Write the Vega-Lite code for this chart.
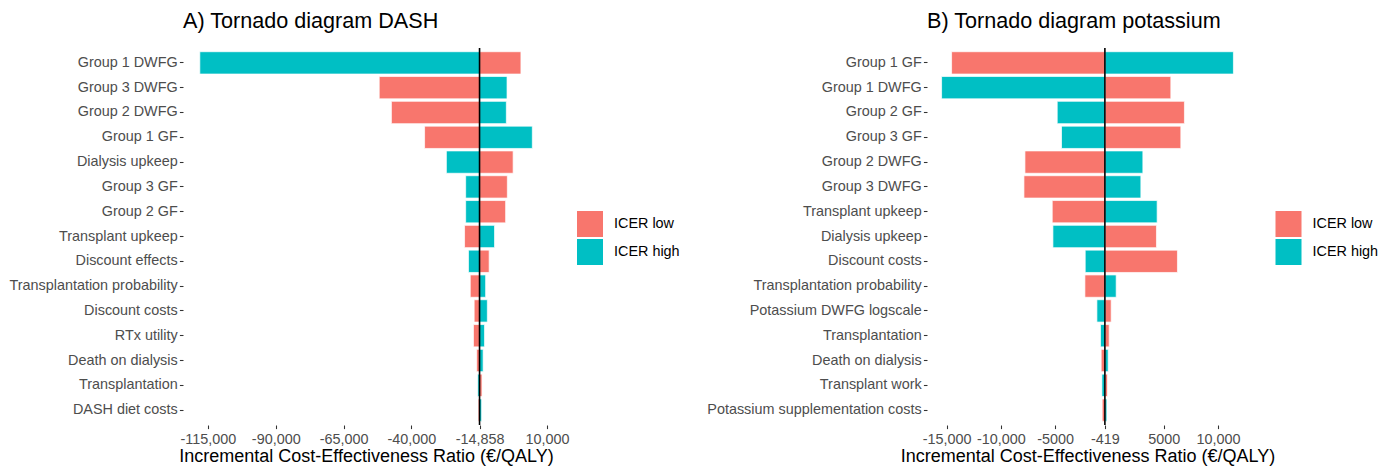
{
  "$schema": "https://vega.github.io/schema/vega-lite/v6.json",
  "padding": {"left": 0, "top": 10, "right": 0, "bottom": 0},
  "background": "white",
  "config": {
    "font": "Liberation Sans",
    "view": {"stroke": null},
    "axis": {
      "labelFont": "Liberation Sans",
      "titleFont": "Liberation Sans",
      "labelFontSize": 14.4,
      "labelColor": "#4D4D4D",
      "labelLimit": 400,
      "titleFontSize": 18,
      "titleColor": "black",
      "titleFontWeight": "normal",
      "tickColor": "#333333",
      "tickSize": 3.6,
      "tickWidth": 1.07,
      "domain": false,
      "grid": false,
      "labelPadding": 2.2
    },
    "legend": {
      "labelFont": "Liberation Sans",
      "labelFontSize": 14.4,
      "labelColor": "black",
      "symbolType": "square",
      "symbolSize": 784,
      "symbolStrokeColor": "white",
      "symbolStrokeWidth": 2,
      "symbolOpacity": 1,
      "labelOffset": 9,
      "padding": 0,
      "rowPadding": 0,
      "clipHeight": 28
    },
    "title": {
      "font": "Liberation Sans",
      "fontSize": 21.6,
      "fontWeight": "normal",
      "color": "black",
      "anchor": "start",
      "frame": "group",
      "offset": 15
    }
  },
  "datasets": {
    "dash": [
      {"parameter": "Group 1 DWFG", "type": "ICER low", "value": 400, "base": -14858},
      {"parameter": "Group 1 DWFG", "type": "ICER high", "value": -118000, "base": -14858},
      {"parameter": "Group 3 DWFG", "type": "ICER low", "value": -51855, "base": -14858},
      {"parameter": "Group 3 DWFG", "type": "ICER high", "value": -4724, "base": -14858},
      {"parameter": "Group 2 DWFG", "type": "ICER low", "value": -47360, "base": -14858},
      {"parameter": "Group 2 DWFG", "type": "ICER high", "value": -4982, "base": -14858},
      {"parameter": "Group 1 GF", "type": "ICER low", "value": -35126, "base": -14858},
      {"parameter": "Group 1 GF", "type": "ICER high", "value": 4599, "base": -14858},
      {"parameter": "Dialysis upkeep", "type": "ICER low", "value": -2476, "base": -14858},
      {"parameter": "Dialysis upkeep", "type": "ICER high", "value": -27092, "base": -14858},
      {"parameter": "Group 3 GF", "type": "ICER low", "value": -4614, "base": -14858},
      {"parameter": "Group 3 GF", "type": "ICER high", "value": -19980, "base": -14858},
      {"parameter": "Group 2 GF", "type": "ICER low", "value": -5240, "base": -14858},
      {"parameter": "Group 2 GF", "type": "ICER high", "value": -19980, "base": -14858},
      {"parameter": "Transplant  upkeep", "type": "ICER low", "value": -20386, "base": -14858},
      {"parameter": "Transplant  upkeep", "type": "ICER high", "value": -9330, "base": -14858},
      {"parameter": "Discount effects", "type": "ICER low", "value": -11320, "base": -14858},
      {"parameter": "Discount effects", "type": "ICER high", "value": -18948, "base": -14858},
      {"parameter": "Transplantation probability", "type": "ICER low", "value": -18285, "base": -14858},
      {"parameter": "Transplantation probability", "type": "ICER high", "value": -12610, "base": -14858},
      {"parameter": "Discount costs", "type": "ICER low", "value": -16848, "base": -14858},
      {"parameter": "Discount costs", "type": "ICER high", "value": -11984, "base": -14858},
      {"parameter": "RTx utility", "type": "ICER low", "value": -17106, "base": -14858},
      {"parameter": "RTx utility", "type": "ICER high", "value": -13015, "base": -14858},
      {"parameter": "Death on dialysis", "type": "ICER low", "value": -15927, "base": -14858},
      {"parameter": "Death on dialysis", "type": "ICER high", "value": -13531, "base": -14858},
      {"parameter": "Transplantation", "type": "ICER low", "value": -13937, "base": -14858},
      {"parameter": "Transplantation", "type": "ICER high", "value": -15521, "base": -14858},
      {"parameter": "DASH diet costs", "type": "ICER low", "value": -15374, "base": -14858},
      {"parameter": "DASH diet costs", "type": "ICER high", "value": -14084, "base": -14858}
    ],
    "potassium": [
      {"parameter": "Group 1 GF", "type": "ICER low", "value": -14540, "base": -419},
      {"parameter": "Group 1 GF", "type": "ICER high", "value": 11419, "base": -419},
      {"parameter": "Group 1 DWFG", "type": "ICER low", "value": 5656, "base": -419},
      {"parameter": "Group 1 DWFG", "type": "ICER high", "value": -15460, "base": -419},
      {"parameter": "Group 2 GF", "type": "ICER low", "value": 6908, "base": -419},
      {"parameter": "Group 2 GF", "type": "ICER high", "value": -4810, "base": -419},
      {"parameter": "Group 3 GF", "type": "ICER low", "value": 6577, "base": -419},
      {"parameter": "Group 3 GF", "type": "ICER high", "value": -4414, "base": -419},
      {"parameter": "Group 2 DWFG", "type": "ICER low", "value": -7783, "base": -419},
      {"parameter": "Group 2 DWFG", "type": "ICER high", "value": 3079, "base": -419},
      {"parameter": "Group 3 DWFG", "type": "ICER low", "value": -7875, "base": -419},
      {"parameter": "Group 3 DWFG", "type": "ICER high", "value": 2895, "base": -419},
      {"parameter": "Transplant  upkeep", "type": "ICER low", "value": -5270, "base": -419},
      {"parameter": "Transplant  upkeep", "type": "ICER high", "value": 4395, "base": -419},
      {"parameter": "Dialysis upkeep", "type": "ICER low", "value": 4331, "base": -419},
      {"parameter": "Dialysis upkeep", "type": "ICER high", "value": -5206, "base": -419},
      {"parameter": "Discount costs", "type": "ICER low", "value": 6264, "base": -419},
      {"parameter": "Discount costs", "type": "ICER high", "value": -2232, "base": -419},
      {"parameter": "Transplantation probability", "type": "ICER low", "value": -2260, "base": -419},
      {"parameter": "Transplantation probability", "type": "ICER high", "value": 621, "base": -419},
      {"parameter": "Potassium DWFG logscale", "type": "ICER low", "value": 161, "base": -419},
      {"parameter": "Potassium DWFG logscale", "type": "ICER high", "value": -1155, "base": -419},
      {"parameter": "Transplantation", "type": "ICER low", "value": -23, "base": -419},
      {"parameter": "Transplantation", "type": "ICER high", "value": -824, "base": -419},
      {"parameter": "Death on dialysis", "type": "ICER low", "value": -760, "base": -419},
      {"parameter": "Death on dialysis", "type": "ICER high", "value": -115, "base": -419},
      {"parameter": "Transplant work", "type": "ICER low", "value": -180, "base": -419},
      {"parameter": "Transplant work", "type": "ICER high", "value": -695, "base": -419},
      {"parameter": "Potassium supplementation costs", "type": "ICER low", "value": -668, "base": -419},
      {"parameter": "Potassium supplementation costs", "type": "ICER high", "value": -235, "base": -419}
    ]
  },
  "spacing": 0,
  "resolve": {"scale": {"x": "independent", "y": "independent"}, "legend": {"color": "independent"}},
  "hconcat": [
    {
      "width": 366,
      "height": 377,
      "title": {"text": "A) Tornado diagram DASH"},
      "layer": [
        {
          "data": {"name": "dash"},
          "mark": {"type": "bar", "stroke": "white", "strokeWidth": 1, "strokeOpacity": 0.7},
          "encoding": {
            "y": {
              "field": "parameter", "type": "nominal",
              "sort": ["Group 1 DWFG", "Group 3 DWFG", "Group 2 DWFG", "Group 1 GF", "Dialysis upkeep", "Group 3 GF", "Group 2 GF", "Transplant  upkeep", "Discount effects", "Transplantation probability", "Discount costs", "RTx utility", "Death on dialysis", "Transplantation", "DASH diet costs"],
              "scale": {"paddingInner": 0.1, "paddingOuter": 0.15},
              "axis": {"title": null, "minExtent": 183, "maxExtent": 183}
            },
            "x": {
              "field": "value", "type": "quantitative",
              "scale": {"domain": [-124200, 10750], "nice": false, "zero": false},
              "axis": {
                "title": "Incremental Cost-Effectiveness Ratio (€/QALY)",
                "values": [-115000, -90000, -65000, -40000, -14858, 10000],
                "labelExpr": "datum.value == -115000 ? '-115,000' : datum.value == -90000 ? '-90,000' : datum.value == -65000 ? '-65,000' : datum.value == -40000 ? '-40,000' : datum.value == -14858 ? '-14,858' : '10,000'",
                "labelOverlap": false,
                "labelFlush": false,
                "labelPadding": 3.5,
                "titlePadding": 2
              }
            },
            "x2": {"field": "base"},
            "color": {
              "field": "type", "type": "nominal",
              "scale": {"domain": ["ICER low", "ICER high"], "range": ["#F8766D", "#00BFC4"]},
              "legend": {"title": null, "orient": "none", "legendX": 392, "legendY": 162, "rowPadding": 0, "clipHeight": 28}
            }
          }
        },
        {
          "data": {"values": [{"base": -14858}]},
          "mark": {"type": "rule", "color": "black", "strokeWidth": 1.6},
          "encoding": {"x": {"field": "base", "type": "quantitative", "title": "Incremental Cost-Effectiveness Ratio (€/QALY)"}}
        }
      ]
    },
    {
      "width": 321,
      "height": 377,
      "title": {"text": "B) Tornado diagram potassium"},
      "layer": [
        {
          "data": {"name": "potassium"},
          "mark": {"type": "bar", "stroke": "white", "strokeWidth": 1, "strokeOpacity": 0.7},
          "encoding": {
            "y": {
              "field": "parameter", "type": "nominal",
              "sort": ["Group 1 GF", "Group 1 DWFG", "Group 2 GF", "Group 3 GF", "Group 2 DWFG", "Group 3 DWFG", "Transplant  upkeep", "Dialysis upkeep", "Discount costs", "Transplantation probability", "Potassium DWFG logscale", "Transplantation", "Death on dialysis", "Transplant work", "Potassium supplementation costs"],
              "scale": {"paddingInner": 0.1, "paddingOuter": 0.15},
              "axis": {"title": null, "minExtent": 247, "maxExtent": 247}
            },
            "x": {
              "field": "value", "type": "quantitative",
              "scale": {"domain": [-16804, 12763], "nice": false, "zero": false},
              "axis": {
                "title": "Incremental Cost-Effectiveness Ratio (€/QALY)",
                "values": [-15000, -10000, -5000, -419, 5000, 10000],
                "labelExpr": "datum.value == -15000 ? '-15,000' : datum.value == -10000 ? '-10,000' : datum.value == -5000 ? '-5000' : datum.value == -419 ? '-419' : datum.value == 5000 ? '5000' : '10,000'",
                "labelOverlap": false,
                "labelFlush": false,
                "labelPadding": 3.5,
                "titlePadding": 2
              }
            },
            "x2": {"field": "base"},
            "color": {
              "field": "type", "type": "nominal",
              "scale": {"domain": ["ICER low", "ICER high"], "range": ["#F8766D", "#00BFC4"]},
              "legend": {"title": null, "orient": "none", "legendX": 346.5, "legendY": 162, "rowPadding": 0, "clipHeight": 28}
            }
          }
        },
        {
          "data": {"values": [{"base": -419}]},
          "mark": {"type": "rule", "color": "black", "strokeWidth": 1.6},
          "encoding": {"x": {"field": "base", "type": "quantitative", "title": "Incremental Cost-Effectiveness Ratio (€/QALY)"}}
        }
      ]
    }
  ]
}
